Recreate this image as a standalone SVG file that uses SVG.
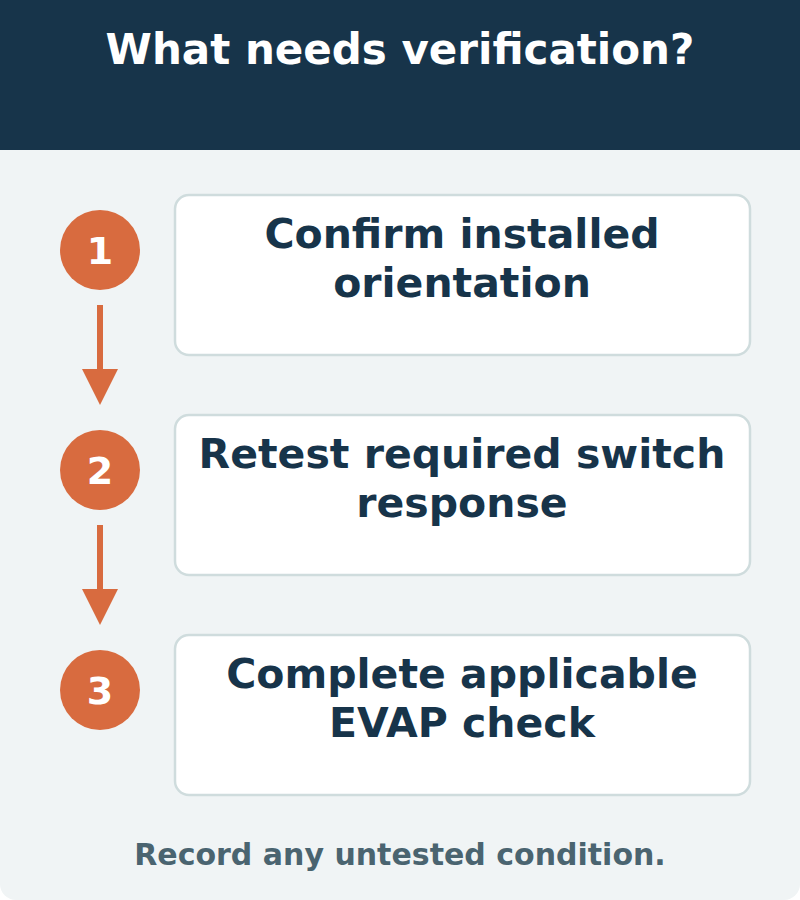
<svg xmlns="http://www.w3.org/2000/svg" width="800" height="900" viewBox="0 0 800 900">
<style>
text{font-family:"DejaVu Sans",sans-serif;font-weight:bold;text-anchor:middle}
.box{fill:#fff;stroke:#cfdcdd;stroke-width:2.5}
.num{fill:#d86b3f}
.nt{fill:#fff;font-size:38px}
.bt{fill:#17344a;font-size:41px}
.ar{stroke:#d86b3f;stroke-width:6}
</style>
<rect x="0" y="0" width="800" height="900" rx="16" fill="#f0f4f5"/>
<rect x="0" y="0" width="800" height="150" fill="#17344a"/>
<text x="400" y="64" fill="#fff" font-size="42">What needs verification?</text>
<g id="connectors">
<line class="ar" x1="100" y1="305" x2="100" y2="372"/>
<polygon points="82,369 118,369 100,405" fill="#d86b3f"/>
<line class="ar" x1="100" y1="525" x2="100" y2="592"/>
<polygon points="82,589 118,589 100,625" fill="#d86b3f"/>
</g>
<g id="step1">
<circle class="num" cx="100" cy="250" r="40"/><text class="nt" x="100" y="264">1</text>
<rect class="box" x="175" y="195" width="575" height="160" rx="14"/>
<text class="bt" x="462" y="248">Confirm installed</text><text class="bt" x="462" y="297">orientation</text>
</g>
<g id="step2">
<circle class="num" cx="100" cy="470" r="40"/><text class="nt" x="100" y="484">2</text>
<rect class="box" x="175" y="415" width="575" height="160" rx="14"/>
<text class="bt" x="462" y="468">Retest required switch</text><text class="bt" x="462" y="517">response</text>
</g>
<g id="step3">
<circle class="num" cx="100" cy="690" r="40"/><text class="nt" x="100" y="704">3</text>
<rect class="box" x="175" y="635" width="575" height="160" rx="14"/>
<text class="bt" x="462" y="688">Complete applicable</text><text class="bt" x="462" y="737">EVAP check</text>
</g>
<text x="400" y="865" fill="#4a6470" font-size="30">Record any untested condition.</text>
</svg>
